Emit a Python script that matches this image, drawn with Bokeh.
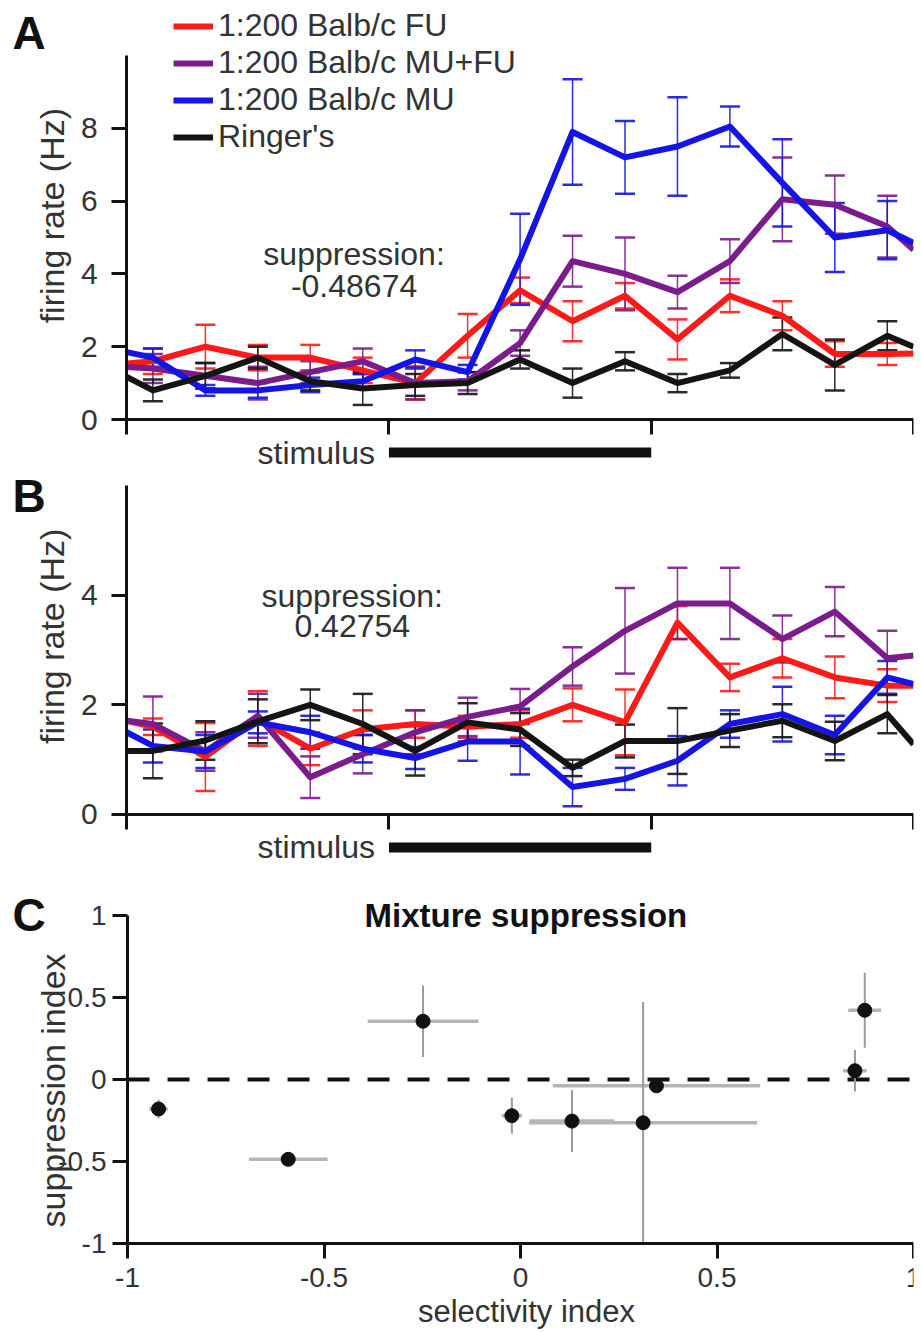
import math
from bokeh.plotting import figure
from bokeh.layouts import column
from bokeh.models import (ColumnDataSource, FixedTicker, Range1d, Label, Legend,
                          LegendItem, CustomJSTickFormatter)
from bokeh.core.properties import value
from bokeh.embed import file_html
from bokeh.resources import INLINE

# ---------------- data ----------------
# time (s): window edges plus 200 ms bin centres
time_bins = [0.0, 0.1, 0.3, 0.5, 0.7, 0.9, 1.1, 1.3, 1.5, 1.7, 1.9, 2.1, 2.3, 2.5, 2.7, 2.9, 3.0]
tick_times = [0, 1, 2, 3]
stim_on = [1.0]
stim_off = [2.0]

series_names = ["1:200 Balb/c FU", "1:200 Balb/c MU+FU", "1:200 Balb/c MU", "Ringer's"]

# panel A
a_fu = [1.54, 1.6, 2.0, 1.7, 1.7, 1.35, 1.0, 2.3, 3.55, 2.7, 3.4, 2.2, 3.4, 2.85, 1.8, 1.8, 1.81]
a_fu_err = [0, 0.35, 0.6, 0.35, 0.35, 0.35, 0.45, 0.6, 0.35, 0.55, 0.35, 0.55, 0.45, 0.4, 0.35, 0.3, 0]
a_mufu = [1.44, 1.4, 1.2, 1.0, 1.3, 1.6, 1.0, 1.05, 2.1, 4.35, 4.0, 3.5, 4.35, 6.05, 5.9, 5.3, 4.66]
a_mufu_err = [0, 0.4, 0.35, 0.45, 0.3, 0.35, 0.45, 0.25, 0.35, 0.7, 1.0, 0.45, 0.6, 1.15, 0.8, 0.85, 0]
a_mu = [1.85, 1.7, 0.8, 0.8, 0.95, 1.05, 1.65, 1.3, 4.4, 7.9, 7.2, 7.5, 8.05, 6.5, 5.0, 5.2, 4.85]
a_mu_err = [0, 0.25, 0.15, 0.2, 0.2, 0.2, 0.25, 0.2, 1.25, 1.45, 1.0, 1.35, 0.55, 1.2, 0.95, 0.8, 0]
a_ringer = [1.17, 0.8, 1.2, 1.7, 1.05, 0.85, 0.95, 1.0, 1.65, 1.0, 1.6, 1.0, 1.35, 2.35, 1.5, 2.3, 2.0]
a_ringer_err = [0, 0.3, 0.35, 0.3, 0.25, 0.45, 0.3, 0.3, 0.25, 0.4, 0.25, 0.25, 0.2, 0.45, 0.7, 0.4, 0]
a_suppression = "-0.48674"

# panel B
b_fu = [1.71, 1.6, 1.05, 1.75, 1.2, 1.55, 1.65, 1.6, 1.65, 2.0, 1.68, 3.5, 2.5, 2.85, 2.5, 2.35, 2.35]
b_fu_err = [0, 0.15, 0.62, 0.5, 0.3, 0.35, 0.25, 0.2, 0.25, 0.3, 0.6, 0.3, 0.25, 0.35, 0.38, 0.3, 0]
b_mufu = [1.71, 1.65, 1.15, 1.8, 0.68, 1.1, 1.5, 1.78, 1.97, 2.7, 3.35, 3.85, 3.85, 3.2, 3.7, 2.85, 2.9]
b_mufu_err = [0, 0.5, 0.35, 0.4, 0.38, 0.35, 0.4, 0.35, 0.32, 0.35, 0.78, 0.65, 0.65, 0.43, 0.45, 0.5, 0]
b_mu = [1.5, 1.25, 1.15, 1.68, 1.5, 1.2, 1.03, 1.33, 1.33, 0.5, 0.65, 0.98, 1.65, 1.83, 1.45, 2.5, 2.38]
b_mu_err = [0, 0.3, 0.3, 0.2, 0.3, 0.25, 0.2, 0.35, 0.6, 0.35, 0.2, 0.45, 0.25, 0.5, 0.35, 0.3, 0]
b_ringer = [1.16, 1.16, 1.35, 1.7, 2.0, 1.65, 1.16, 1.68, 1.55, 0.85, 1.34, 1.34, 1.53, 1.71, 1.34, 1.83, 1.28]
b_ringer_err = [0, 0.5, 0.35, 0.4, 0.28, 0.55, 0.45, 0.35, 0.3, 0.15, 0.3, 0.6, 0.3, 0.3, 0.35, 0.35, 0]
b_suppression = "0.42754"

# panel C
sel_idx = [-0.921, -0.591, -0.248, -0.022, 0.131, 0.312, 0.346, 0.851, 0.876]
sel_err = [0.024, 0.10, 0.141, 0.026, 0.108, 0.29, 0.264, 0.03, 0.042]
sup_idx = [-0.18, -0.487, 0.355, -0.221, -0.254, -0.264, -0.039, 0.053, 0.422]
sup_err = [0.056, 0.02, 0.218, 0.11, 0.188, 0.736, 0.03, 0.127, 0.228]
c_ticks = [-1, -0.5, 0, 0.5, 1]
zero_level = [0, 0]

# ---------------- style ----------------
FONT = "Liberation Sans"
TXT = "#333333"
AX = "#111111"
COLORS = ["#ff1a1a", "#7a1c8c", "#1414e6", "#141414"]


def make_fig(height, xr, yr, right=3):
    p = figure(width=922, height=height, x_range=Range1d(xr[0], xr[1]),
               y_range=Range1d(yr[0], yr[1]), output_backend="svg",
               toolbar_location=None, min_border_left=0, min_border_right=right,
               min_border_top=0, min_border_bottom=0)
    p.outline_line_color = None
    p.xgrid.visible = False
    p.ygrid.visible = False
    p.background_fill_color = "white"
    p.border_fill_color = "white"
    return p


def style_axes(p, tick_font):
    for ax in (p.xaxis[0], p.yaxis[0]):
        ax.axis_line_width = 3
        ax.axis_line_color = AX
        ax.major_tick_line_width = 3
        ax.major_tick_line_color = AX
        ax.major_tick_out = 15
        ax.major_tick_in = 0
        ax.minor_tick_line_color = None
        ax.major_label_text_font = FONT
        ax.major_label_text_font_size = tick_font
        ax.major_label_text_color = TXT


def text_label(p, x, y, text, size, bold=False, align="center", angle=0.0, color=TXT):
    p.add_layout(Label(x=x, y=y, text=text, text_font=FONT, text_font_size=size,
                       text_font_style="bold" if bold else "normal", text_color=color,
                       text_align=align, text_baseline="middle", angle=angle))


def time_panel(height, y_lo, y_hi, y_top, yticks, series, stim_y, supp, supp_x,
               supp_y1, supp_y2, letter, letter_y, ylab_y, legend=False):
    p = make_fig(height, (-0.4811, 3.0), (y_lo, y_hi))
    style_axes(p, "30px")
    p.xaxis.fixed_location = 0
    p.xaxis.bounds = (tick_times[0], tick_times[-1])
    p.xaxis.ticker = FixedTicker(ticks=tick_times)
    p.xaxis.major_label_text_color = None
    p.yaxis.fixed_location = 0
    p.yaxis.ticker = FixedTicker(ticks=yticks)
    p.yaxis.bounds = (0, y_top)
    p.yaxis.major_label_standoff = 14

    for vals, errs, col in series:
        xs, lo, hi = [], [], []
        for t, v, e in zip(time_bins, vals, errs):
            if e > 0:
                xs.append(t)
                lo.append(v - e)
                hi.append(v + e)
        src = ColumnDataSource(dict(x=xs, lo=lo, hi=hi))
        p.segment(x0="x", y0="lo", x1="x", y1="hi", source=src, line_color=col,
                  line_width=1.5, line_alpha=0.9)
        p.scatter(x="x", y="lo", source=src, marker="dash", size=20,
                  line_color=col, line_width=2.5, line_alpha=0.9)
        p.scatter(x="x", y="hi", source=src, marker="dash", size=20,
                  line_color=col, line_width=2.5, line_alpha=0.9)

    rends = []
    for vals, errs, col in series:
        r = p.line(time_bins, vals, line_color=col, line_width=6, line_join="round")
        rends.append(r)

    # stimulus bar
    p.segment(x0=stim_on, y0=[stim_y], x1=stim_off, y1=[stim_y], line_color=AX,
              line_width=10, line_cap="butt")
    p.text(x=stim_on, y=[stim_y], text=["stimulus"], text_align="right",
           text_baseline="middle", x_offset=-14, text_font=value(FONT),
           text_font_size="32px", text_color=TXT)

    text_label(p, supp_x, supp_y1, "suppression:", "32px")
    text_label(p, supp_x, supp_y2, supp, "32px")
    text_label(p, -0.4356, letter_y, letter, "46px", bold=True, align="left",
               color="#111111")
    text_label(p, -0.284, ylab_y, "firing rate (Hz)", "34px", angle=math.pi / 2)

    if legend:
        items = [LegendItem(label=n, renderers=[r]) for n, r in zip(series_names, rends)]
        lg = Legend(items=items, location=(173, 315), padding=0, spacing=0, margin=0,
                    glyph_width=40, glyph_height=36, label_height=36, label_standoff=5,
                    label_text_font=FONT, label_text_font_size="32px",
                    label_text_color=TXT, background_fill_alpha=0, border_line_alpha=0)
        p.add_layout(lg)
    return p


pA = time_panel(470, -1.401, 11.511, 10, [0, 2, 4, 6, 8],
                [(a_fu, a_fu_err, COLORS[0]), (a_mufu, a_mufu_err, COLORS[1]),
                 (a_mu, a_mu_err, COLORS[2]), (a_ringer, a_ringer_err, COLORS[3])],
                -0.907, a_suppression, 0.867, 4.56, 3.68, "A", 10.63, 5.6, legend=True)

pB = time_panel(402, -1.058, 6.274, 6, [0, 2, 4],
                [(b_fu, b_fu_err, COLORS[0]), (b_mufu, b_mufu_err, COLORS[1]),
                 (b_mu, b_mu_err, COLORS[2]), (b_ringer, b_ringer_err, COLORS[3])],
                -0.602, b_suppression, 0.86, 3.99, 3.43, "B", 5.80, 3.25)

# ---------------- panel C ----------------
pC = make_fig(460, (-1.3232, 1.0), (-1.543, 1.262), right=9)
style_axes(pC, "28px")
fmt = CustomJSTickFormatter(code="return String(tick)")
pC.xaxis.fixed_location = -1
pC.yaxis.fixed_location = -1
pC.xaxis.ticker = FixedTicker(ticks=c_ticks)
pC.yaxis.ticker = FixedTicker(ticks=c_ticks)
pC.xaxis.formatter = fmt
pC.yaxis.formatter = fmt
pC.xaxis.bounds = (c_ticks[0], c_ticks[-1])
pC.yaxis.bounds = (c_ticks[0], c_ticks[-1])
pC.xaxis.major_label_standoff = 10
pC.yaxis.major_label_standoff = 6

pC.line(x=[c_ticks[0], c_ticks[-1]], y=zero_level, line_color=AX, line_width=4,
        line_dash="22 18")

csrc = ColumnDataSource(dict(
    x=sel_idx, y=sup_idx,
    xl=[a - b for a, b in zip(sel_idx, sel_err)], xh=[a + b for a, b in zip(sel_idx, sel_err)],
    yl=[a - b for a, b in zip(sup_idx, sup_err)], yh=[a + b for a, b in zip(sup_idx, sup_err)],
))
pC.segment(x0="xl", y0="y", x1="xh", y1="y", source=csrc, line_color="#b5b5b5", line_width=3.5)
pC.segment(x0="x", y0="yl", x1="x", y1="yh", source=csrc, line_color="#9a9a9a", line_width=2)
pC.scatter(x="x", y="y", source=csrc, marker="circle", size=14, fill_color="#111111",
           line_color="#111111")

text_label(pC, 0.0254, 1.0, "Mixture  suppression", "33px", bold=True, color="#111111")
text_label(pC, -1.2926, 1.0, "C", "46px", bold=True, align="left", color="#111111")
text_label(pC, -1.1908, -0.067, "suppression index", "34px", angle=math.pi / 2)
text_label(pC, 0.0153, -1.415, "selectivity index", "31px")

layout = column(pA, pB, pC, spacing=0)

with open("out.html", "w") as f:
    f.write(file_html(layout, INLINE))
